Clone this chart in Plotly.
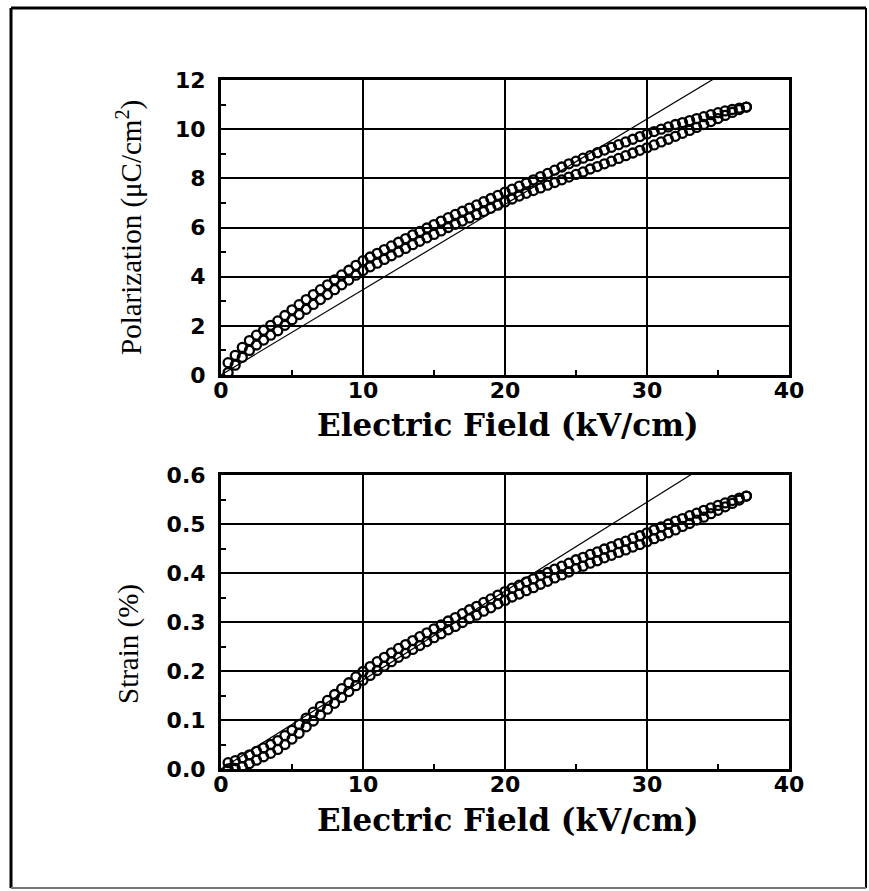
import plotly.graph_objects as go

# ---------------- data ----------------
field = [0.5, 1.0, 1.5, 2.0, 2.5, 3.0, 3.5, 4.0, 4.5, 5.0, 5.5, 6.0, 6.5, 7.0, 7.5,
         8.0, 8.5, 9.0, 9.5, 10.0, 10.5, 11.0, 11.5, 12.0, 12.5, 13.0, 13.5, 14.0,
         14.5, 15.0, 15.5, 16.0, 16.5, 17.0, 17.5, 18.0, 18.5, 19.0, 19.5, 20.0,
         20.5, 21.0, 21.5, 22.0, 22.5, 23.0, 23.5, 24.0, 24.5, 25.0, 25.5, 26.0,
         26.5, 27.0, 27.5, 28.0, 28.5, 29.0, 29.5, 30.0, 30.5, 31.0, 31.5, 32.0,
         32.5, 33.0, 33.5, 34.0, 34.5, 35.0, 35.5, 36.0, 36.5, 37.0]

pol_up = [0.10, 0.40, 0.72, 1.00, 1.22, 1.42, 1.62, 1.80, 2.02, 2.25, 2.46, 2.67, 2.87,
          3.07, 3.27, 3.47, 3.67, 3.86, 4.06, 4.25, 4.40, 4.55, 4.70, 4.85, 5.00, 5.15,
          5.30, 5.44, 5.58, 5.72, 5.86, 6.00, 6.13, 6.26, 6.39, 6.52, 6.65, 6.78, 6.91,
          7.04, 7.16, 7.28, 7.39, 7.50, 7.61, 7.72, 7.83, 7.94, 8.05, 8.16, 8.26, 8.38,
          8.48, 8.59, 8.70, 8.81, 8.92, 9.03, 9.14, 9.24, 9.36, 9.48, 9.59, 9.71, 9.83,
          9.95, 10.07, 10.19, 10.31, 10.43, 10.56, 10.68, 10.80, 10.90]

pol_down = [0.50, 0.80, 1.12, 1.40, 1.62, 1.82, 2.02, 2.20, 2.42, 2.65, 2.86, 3.07, 3.27,
            3.47, 3.67, 3.87, 4.07, 4.26, 4.46, 4.65, 4.80, 4.95, 5.10, 5.25, 5.40, 5.55,
            5.70, 5.84, 5.98, 6.12, 6.26, 6.40, 6.53, 6.66, 6.79, 6.92, 7.05, 7.18, 7.31,
            7.44, 7.56, 7.68, 7.81, 7.94, 8.07, 8.20, 8.33, 8.46, 8.59, 8.70, 8.82, 8.92,
            9.04, 9.15, 9.26, 9.37, 9.48, 9.59, 9.70, 9.80, 9.90, 10.00, 10.09, 10.19,
            10.27, 10.35, 10.43, 10.51, 10.59, 10.67, 10.74, 10.80, 10.86, 10.90]

strain_up = [0.000, 0.001, 0.005, 0.011, 0.018, 0.025, 0.032, 0.040, 0.050, 0.061, 0.073,
             0.086, 0.098, 0.110, 0.122, 0.134, 0.146, 0.158, 0.170, 0.181, 0.191, 0.201,
             0.210, 0.219, 0.228, 0.236, 0.244, 0.252, 0.260, 0.268, 0.276, 0.284, 0.291,
             0.299, 0.307, 0.314, 0.322, 0.329, 0.337, 0.344, 0.351, 0.357, 0.364, 0.370,
             0.377, 0.383, 0.390, 0.396, 0.402, 0.409, 0.414, 0.420, 0.425, 0.431, 0.436,
             0.442, 0.447, 0.453, 0.458, 0.464, 0.470, 0.476, 0.482, 0.488, 0.495, 0.501,
             0.508, 0.514, 0.521, 0.528, 0.535, 0.542, 0.549, 0.557]

strain_down = [0.013, 0.017, 0.023, 0.029, 0.036, 0.043, 0.050, 0.058, 0.068, 0.079, 0.091,
               0.104, 0.116, 0.128, 0.140, 0.152, 0.164, 0.176, 0.188, 0.199, 0.209, 0.219,
               0.228, 0.237, 0.246, 0.254, 0.262, 0.270, 0.278, 0.286, 0.294, 0.302, 0.309,
               0.317, 0.325, 0.332, 0.340, 0.347, 0.355, 0.362, 0.369, 0.375, 0.382, 0.388,
               0.395, 0.401, 0.408, 0.414, 0.420, 0.427, 0.432, 0.438, 0.443, 0.449, 0.454,
               0.460, 0.465, 0.471, 0.476, 0.482, 0.488, 0.494, 0.500, 0.506, 0.511, 0.517,
               0.522, 0.528, 0.533, 0.538, 0.543, 0.548, 0.553, 0.557]

pol_fit_x = [0.0, 36.3]
pol_fit_y = [0.0, 12.6]
strain_fit_x = [0.0, 34.1]
strain_fit_y = [0.0, 0.619]

x_ticks = [0, 10, 20, 30, 40]
pol_ticks = [0, 2, 4, 6, 8, 10, 12]
strain_ticks = [0.0, 0.1, 0.2, 0.3, 0.4, 0.5, 0.6]
strain_ticklabels = ["0.0", "0.1", "0.2", "0.3", "0.4", "0.5", "0.6"]

# ---------------- figure ----------------
W, H = 869, 891
fig = go.Figure()

marker = dict(symbol="circle-open", size=9, color="black", line=dict(width=2.3, color="black"))

for ys in (pol_up, pol_down):
    fig.add_trace(go.Scatter(x=field, y=ys, mode="markers", marker=marker,
                             xaxis="x", yaxis="y", showlegend=False))
fig.add_trace(go.Scatter(x=pol_fit_x, y=pol_fit_y, mode="lines",
                         line=dict(color="black", width=1.2),
                         xaxis="x", yaxis="y", showlegend=False))

for ys in (strain_up, strain_down):
    fig.add_trace(go.Scatter(x=field, y=ys, mode="markers", marker=marker,
                             xaxis="x2", yaxis="y2", showlegend=False))
fig.add_trace(go.Scatter(x=strain_fit_x, y=strain_fit_y, mode="lines",
                         line=dict(color="black", width=1.2),
                         xaxis="x2", yaxis="y2", showlegend=False))

tickfont = dict(family="DejaVu Sans", size=22, color="black", weight="bold")

def px_x(p):
    return p / W

def px_y(p):
    return 1 - p / H

x_dom = [px_x(221), px_x(789)]
top_dom = [px_y(375), px_y(80)]
bot_dom = [px_y(769), px_y(475)]

common_axis = dict(
    showline=True, linewidth=3, linecolor="black", mirror=True,
    showgrid=True, gridcolor="black", gridwidth=1.8,
    zeroline=False, ticks="", tickfont=tickfont, automargin=False,
)

fig.update_layout(
    template="none",
    width=W, height=H,
    margin=dict(l=0, r=0, t=0, b=0, pad=0, autoexpand=False),
    paper_bgcolor="white", plot_bgcolor="white",
    showlegend=False,
    xaxis=dict(domain=x_dom, anchor="y", range=[0, 40], tickvals=x_ticks,
               minor=dict(tickvals=[5, 15, 25, 35], ticks="inside", ticklen=5,
                          tickwidth=1.5, tickcolor="black", showgrid=False),
               ticklabelstandoff=-6, **common_axis),
    yaxis=dict(domain=top_dom, anchor="x", range=[0, 12], tickvals=pol_ticks,
               minor=dict(tickvals=[1, 3, 5, 7, 9, 11], ticks="inside", ticklen=5,
                          tickwidth=1.5, tickcolor="black", showgrid=False),
               ticklabelstandoff=8, **common_axis),
    xaxis2=dict(domain=x_dom, anchor="y2", range=[0, 40], tickvals=x_ticks,
                minor=dict(tickvals=[5, 15, 25, 35], ticks="inside", ticklen=5,
                           tickwidth=1.5, tickcolor="black", showgrid=False),
                ticklabelstandoff=-6, **common_axis),
    yaxis2=dict(domain=bot_dom, anchor="x2", range=[0, 0.6], tickvals=strain_ticks,
                ticktext=strain_ticklabels,
                minor=dict(tickvals=[0.05, 0.15, 0.25, 0.35, 0.45, 0.55], ticks="inside",
                           ticklen=5, tickwidth=1.5, tickcolor="black", showgrid=False),
                ticklabelstandoff=8, **common_axis),
)

title_font = dict(family="DejaVu Serif", size=31, color="black", weight="bold")
ytitle_font = dict(family="Liberation Serif", size=29, color="black")

fig.add_annotation(text="Electric Field (kV/cm)", x=px_x(508), y=px_y(425),
                   xref="paper", yref="paper", showarrow=False, font=title_font,
                   xanchor="center", yanchor="middle")
fig.add_annotation(text="Electric Field (kV/cm)", x=px_x(508), y=px_y(820),
                   xref="paper", yref="paper", showarrow=False, font=title_font,
                   xanchor="center", yanchor="middle")
fig.add_annotation(text="Polarization (μC/cm<sup>2</sup>)", x=px_x(130), y=px_y(228),
                   xref="paper", yref="paper", showarrow=False, font=ytitle_font,
                   textangle=-90, xanchor="center", yanchor="middle")
fig.add_annotation(text="Strain (%)", x=px_x(128), y=px_y(644),
                   xref="paper", yref="paper", showarrow=False, font=ytitle_font,
                   textangle=-90, xanchor="center", yanchor="middle")

# outer frame of the figure
fig.add_shape(type="line", xref="paper", yref="paper", x0=px_x(11), x1=px_x(866),
              y0=px_y(8), y1=px_y(8), line=dict(color="black", width=3))
fig.add_shape(type="line", xref="paper", yref="paper", x0=px_x(11), x1=px_x(11),
              y0=px_y(8), y1=px_y(888), line=dict(color="black", width=3))
fig.add_shape(type="line", xref="paper", yref="paper", x0=px_x(866), x1=px_x(866),
              y0=px_y(8), y1=px_y(888), line=dict(color="black", width=2))
fig.add_shape(type="line", xref="paper", yref="paper", x0=px_x(11), x1=px_x(866),
              y0=px_y(888), y1=px_y(888), line=dict(color="#777777", width=2))

fig.write_html("out.html",
               config={"displayModeBar": False},
               post_script="document.body.style.margin='0';document.body.style.overflow='hidden';")
